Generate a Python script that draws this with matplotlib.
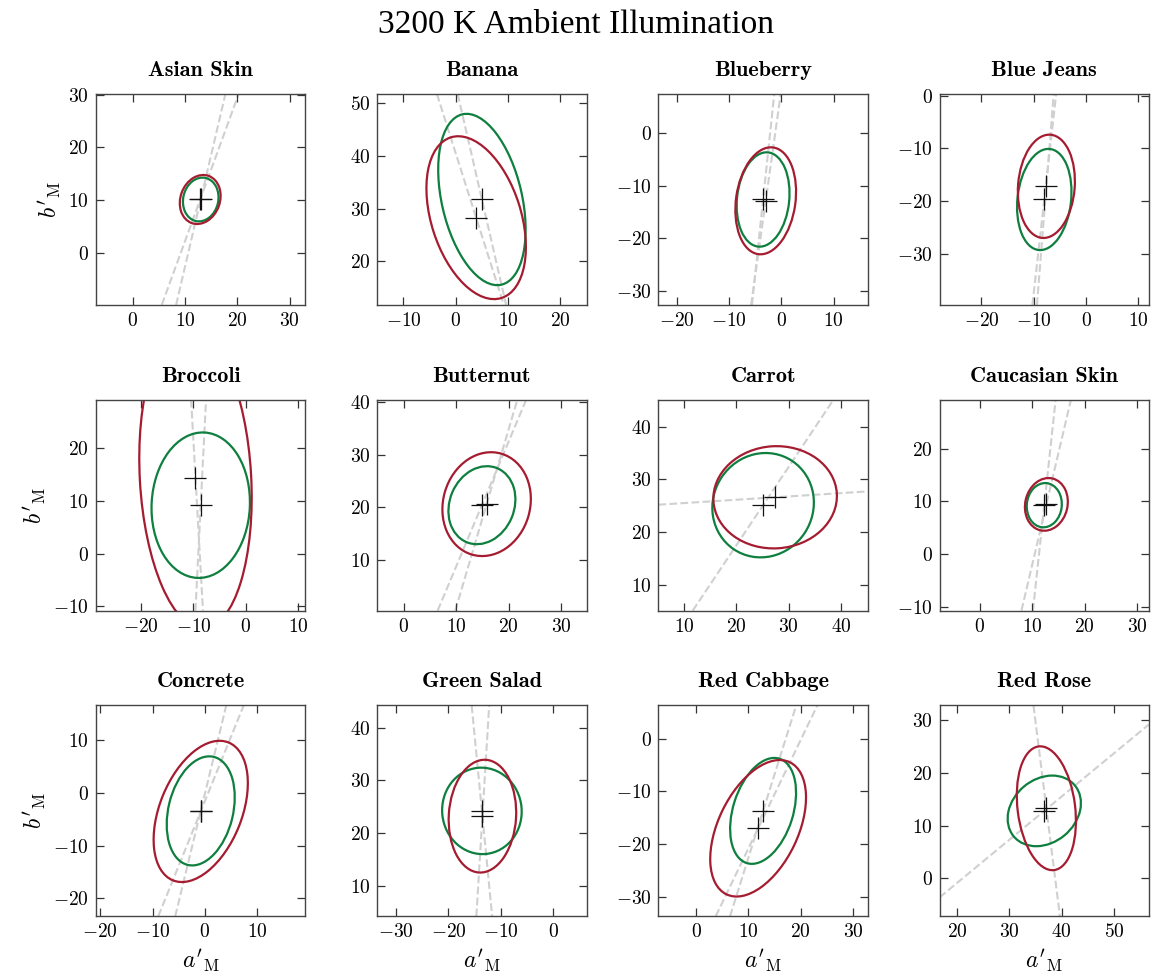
import numpy as np
import matplotlib
matplotlib.use('Agg')
import matplotlib.pyplot as plt
from matplotlib.patches import Ellipse
from matplotlib.ticker import MultipleLocator

plt.rcParams['font.family'] = ['cmr10']
plt.rcParams['mathtext.fontset'] = 'cm'
plt.rcParams['axes.formatter.use_mathtext'] = True

# Panel names, in reading order
titles = ['Asian Skin', 'Banana', 'Blueberry', 'Blue Jeans',
          'Broccoli', 'Butternut', 'Carrot', 'Caucasian Skin',
          'Concrete', 'Green Salad', 'Red Cabbage', 'Red Rose']

# Green ellipse: centre, half extents in a' and b', correlation
green_cx = [13.0, 5.0, -3.5, -8.0, -8.6, 14.9, 25.1, 12.3, -0.8, -13.6, 12.8, 36.7]
green_cy = [10.1, 31.75, -12.6, -19.7, 9.2, 20.4, 25.1, 9.25, -3.4, 24.2, -13.7, 12.8]
green_hx = [3.4, 8.35, 5.05, 5.2, 9.4, 6.4, 9.7, 3.35, 6.5, 7.6, 6.3, 7.0]
green_hy = [4.15, 16.25, 8.95, 9.6, 13.8, 7.4, 9.9, 4.2, 10.35, 8.2, 10.05, 6.7]
green_rho = [0.1, -0.35, 0.13, 0.15, 0.04, 0.15, 0.05, 0.05, 0.25, -0.015, 0.34, 0.22]

# Red ellipse
red_cx = [12.9, 3.9, -3.0, -7.6, -9.6, 15.8, 27.4, 12.7, -0.8, -13.5, 11.85, 37.1]
red_cy = [10.1, 28.3, -12.85, -17.2, 14.4, 20.6, 26.6, 9.4, -3.5, 23.2, -17.0, 13.3]
red_hx = [3.9, 9.5, 5.8, 5.45, 10.74, 8.45, 11.8, 4.1, 9.0, 6.45, 9.15, 5.65]
red_hy = [4.65, 15.45, 10.15, 9.8, 28.6, 9.85, 9.7, 5.0, 13.4, 10.7, 12.95, 11.75]
red_rho = [0.15, -0.36, 0.17, 0.1, -0.13, 0.1, 0.025, 0.1, 0.4, 0.065, 0.45, -0.205]

GREEN = '#0e7f3e'
RED = '#a51c30'
HALF_SPAN = 20


def draw_ellipse(ax, cx, cy, hx, hy, rho, color):
    cov = np.array([[hx ** 2, rho * hx * hy], [rho * hx * hy, hy ** 2]])
    vals, vecs = np.linalg.eigh(cov)
    major = vecs[:, 1]
    angle = np.degrees(np.arctan2(major[1], major[0]))
    # major axis, extended across the panel
    ax.axline((cx, cy), (cx + major[0], cy + major[1]), color='#d0d0d0',
              ls='--', lw=1.5, zorder=1)
    ax.add_patch(Ellipse((cx, cy), 2 * np.sqrt(vals[1]), 2 * np.sqrt(vals[0]),
                         angle=angle, fill=False, ec=color, lw=1.6, zorder=2))
    ax.plot(cx, cy, marker='+', ms=16, mew=0.9, color='#111111', zorder=3)


fig, axes = plt.subplots(3, 4, figsize=(11.53, 9.8), dpi=100)
fig.subplots_adjust(left=0.0833, right=0.9965, top=0.904, bottom=0.065,
                    wspace=0.343, hspace=0.45)

for i, ax in enumerate(axes.flat):
    draw_ellipse(ax, green_cx[i], green_cy[i], green_hx[i], green_hy[i],
                 green_rho[i], GREEN)
    draw_ellipse(ax, red_cx[i], red_cy[i], red_hx[i], red_hy[i],
                 red_rho[i], RED)
    ax.set_xlim(green_cx[i] - HALF_SPAN, green_cx[i] + HALF_SPAN)
    ax.set_ylim(green_cy[i] - HALF_SPAN, green_cy[i] + HALF_SPAN)
    ax.xaxis.set_major_locator(MultipleLocator(10))
    ax.yaxis.set_major_locator(MultipleLocator(10))
    ax.tick_params(direction='in', top=True, right=True, length=6,
                   width=0.9, color='#333333', labelsize=14, pad=5)
    for sp in ax.spines.values():
        sp.set_color('#444444')
        sp.set_linewidth(1.0)
    ax.set_title(titles[i], family='cmb10', fontsize=16, pad=13)
    if i % 4 == 0:
        ax.set_ylabel(r"$b'_\mathrm{M}$", fontsize=17)
    if i >= 8:
        ax.set_xlabel(r"$a'_\mathrm{M}$", fontsize=17)

fig.suptitle('3200 K Ambient Illumination', family='Liberation Serif',
             fontsize=24, y=0.99)

fig.savefig('out.png', dpi=100)
